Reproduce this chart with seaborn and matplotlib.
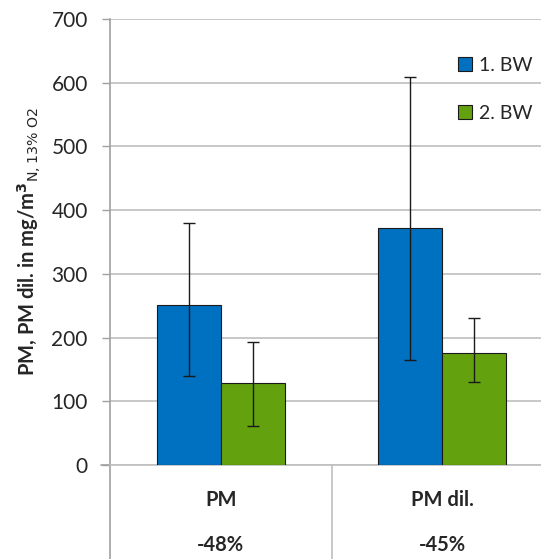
import pandas as pd
import numpy as np
import seaborn as sns
import matplotlib.pyplot as plt
from matplotlib.patches import Patch

# Values
categories = ['PM', 'PM dil.']
reductions = ['-48%', '-45%']
series = ['1. BW', '2. BW']
bw1_mean = [251, 372]
bw1_low = [139, 165]
bw1_high = [380, 609]
bw2_mean = [129, 176]
bw2_low = [61, 130]
bw2_high = [193, 231]
colors = ['#0070C0', '#63A10F']

data = pd.DataFrame({
    'Category': categories * 2,
    'Series': [series[0]] * 2 + [series[1]] * 2,
    'Value': bw1_mean + bw2_mean,
})

sns.set_style('white')
plt.rcParams['font.family'] = ['Lato', 'DejaVu Sans']
text_color = '#262626'

fig = plt.figure(figsize=(5.41, 5.59), dpi=100)
W, H = 541, 559
ax = fig.add_axes([110 / W, (H - 465) / H, (553 - 110) / W, (465 - 19) / H])

sns.barplot(data=data, x='Category', y='Value', hue='Series', palette=colors,
            saturation=1, width=0.58, edgecolor='#1a1a1a', linewidth=0.8,
            errorbar=None, legend=False, ax=ax, zorder=3)

# Asymmetric error bars from the bar centres
lows = [bw1_low, bw2_low]
highs = [bw1_high, bw2_high]
means = [bw1_mean, bw2_mean]
for cont, m, lo, hi in zip(ax.containers, means, lows, highs):
    xs = [b.get_x() + b.get_width() / 2 for b in cont]
    yerr = [np.array(m) - np.array(lo), np.array(hi) - np.array(m)]
    ax.errorbar(xs, m, yerr=yerr, fmt='none', ecolor='#1a1a1a',
                elinewidth=1, capsize=4.5, capthick=1, zorder=4)

ax.set_ylim(0, 700)
ax.set_xlim(-0.5, 1.5)
ax.set_yticks(range(0, 701, 100))
ax.yaxis.grid(True, color='#BFBFBF', linewidth=1.2, zorder=0)
ax.set_axisbelow(True)
ax.tick_params(axis='y', which='both', left=True, length=6, width=1,
               color='#A0A0A0', labelsize=15, labelcolor=text_color, pad=10)
ax.set_xticks([])
ax.set_xlabel('')
for s in ['top', 'right']:
    ax.spines[s].set_visible(False)
ax.spines['left'].set_color('#A0A0A0')
ax.spines['bottom'].set_color('#BFBFBF')
ax.spines['left'].set_linewidth(1.2)
ax.spines['bottom'].set_linewidth(1.2)

ax.set_ylabel(r'PM, PM dil. in mg/m$^\mathbf{3}$$_{\mathrm{N,13\%\ O2}}$',
              fontsize=14.5, fontweight='bold', color=text_color, labelpad=6)

# Category table below the axis
ax.plot([0, 0], [0, -0.22], transform=ax.transAxes, color='#A0A0A0',
        linewidth=1.2, clip_on=False)
ax.plot([0.5, 0.5], [0, -0.22], transform=ax.get_xaxis_transform(),
        color='#BFBFBF', linewidth=1.2, clip_on=False)
ax.plot([-0.02, 0], [0, 0], transform=ax.transAxes, color='#A0A0A0',
        linewidth=1.2, clip_on=False)
for i, (c, r) in enumerate(zip(categories, reductions)):
    ax.text(i, -0.078, c, transform=ax.get_xaxis_transform(), ha='center',
            va='center', fontsize=14.5, fontweight='bold', color=text_color)
    ax.text(i, -0.18, r, transform=ax.get_xaxis_transform(), ha='center',
            va='center', fontsize=14.5, fontweight='bold', color=text_color)

handles = [Patch(facecolor=c, edgecolor='#1a1a1a', linewidth=0.8) for c in colors]
fig.legend(handles, series, loc='upper left', bbox_to_anchor=(446 / W, 1 - 45 / H),
           frameon=False, fontsize=14, handlelength=0.75, handleheight=0.75,
           handletextpad=0.35, labelspacing=1.6, labelcolor=text_color,
           borderaxespad=0.2)

fig.savefig('out.png', dpi=100)
